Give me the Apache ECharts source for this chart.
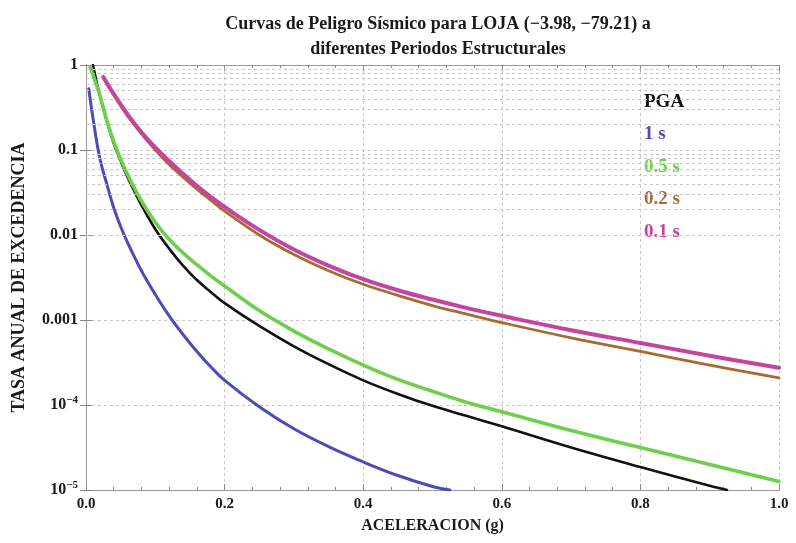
<!DOCTYPE html>
<html><head><meta charset="utf-8">
<script src="https://cdn.jsdelivr.net/npm/echarts@6/dist/echarts.min.js"></script>
<style>html,body{margin:0;padding:0;background:#fff}#c{width:796px;height:543px}</style>
</head><body><div id="c"></div>
<script>
const seriesNames = ['PGA', '1 s', '0.5 s', '0.2 s', '0.1 s'];
const seriesColors = ['#111111', '#4a4db8', '#6fcf4c', '#a86a30', '#c4449e'];

const pgaX = [0.01, 0.02, 0.03, 0.04, 0.05, 0.06, 0.08, 0.10, 0.12, 0.14, 0.16, 0.18, 0.20, 0.25, 0.30, 0.35, 0.40, 0.45, 0.50, 0.55, 0.60, 0.70, 0.80, 0.90, 0.925];
const pgaY = [1.0, 0.437, 0.219, 0.120, 0.0741, 0.0479, 0.0224, 0.0117, 0.00692, 0.00437, 0.00295, 0.00214, 0.00158, 0.000851, 0.00049, 0.000302, 0.000195, 0.000135, 0.0000977, 0.0000741, 0.0000562, 0.0000316, 0.0000186, 0.0000112, 0.00001];

const s1X = [0.004, 0.01, 0.02, 0.03, 0.04, 0.05, 0.06, 0.08, 0.10, 0.12, 0.14, 0.16, 0.18, 0.20, 0.25, 0.30, 0.35, 0.40, 0.45, 0.50, 0.525];
const s1Y = [0.525, 0.24, 0.0794, 0.0398, 0.0209, 0.0126, 0.00813, 0.0038, 0.002, 0.00112, 0.000676, 0.000427, 0.000282, 0.000195, 0.0000955, 0.0000525, 0.0000324, 0.0000214, 0.0000148, 0.000011, 0.00001];

const s05X = [0.006, 0.02, 0.03, 0.04, 0.05, 0.06, 0.08, 0.10, 0.12, 0.14, 0.16, 0.18, 0.20, 0.25, 0.30, 0.35, 0.40, 0.45, 0.50, 0.55, 0.60, 0.70, 0.80, 0.90, 1.0];
const s05Y = [0.955, 0.437, 0.224, 0.126, 0.0776, 0.0513, 0.0251, 0.0141, 0.00891, 0.00617, 0.00447, 0.00331, 0.00251, 0.00129, 0.000741, 0.000457, 0.000295, 0.0002, 0.000145, 0.000107, 0.0000832, 0.0000501, 0.0000316, 0.00002, 0.0000126];

const s02X = [0.025, 0.04, 0.06, 0.08, 0.10, 0.12, 0.14, 0.16, 0.18, 0.20, 0.25, 0.30, 0.35, 0.40, 0.45, 0.50, 0.55, 0.60, 0.70, 0.80, 0.90, 1.0];
const s02Y = [0.708, 0.447, 0.251, 0.155, 0.1, 0.0676, 0.0479, 0.0347, 0.0257, 0.0191, 0.01, 0.00589, 0.0038, 0.00263, 0.00195, 0.00148, 0.00117, 0.000933, 0.000617, 0.000427, 0.000295, 0.000209];

const s01X = [0.025, 0.04, 0.06, 0.08, 0.10, 0.12, 0.14, 0.16, 0.18, 0.20, 0.25, 0.30, 0.35, 0.40, 0.45, 0.50, 0.55, 0.60, 0.70, 0.80, 0.90, 1.0];
const s01Y = [0.724, 0.457, 0.263, 0.162, 0.107, 0.0741, 0.0525, 0.038, 0.0282, 0.0214, 0.0115, 0.00676, 0.00437, 0.00302, 0.00224, 0.00174, 0.00138, 0.00112, 0.000759, 0.000537, 0.00038, 0.000275];

const xTickLabels = ['0.0', '0.2', '0.4', '0.6', '0.8', '1.0'];
const yTickLabels = ['1', '0.1', '0.01', '0.001', '10^-4', '10^-5'];

const seriesX = [pgaX, s1X, s05X, s02X, s01X];
const seriesY = [pgaY, s1Y, s05Y, s02Y, s01Y];
const lineWidths = [2.6, 3, 3.6, 2.8, 4];

const serif = 'Liberation Serif';
const gridLevels = [];
for (let e = -5; e < 0; e++) for (let m = 2; m <= 9; m++) gridLevels.push(m * Math.pow(10, e));

const chart = echarts.init(document.getElementById('c'), null, {renderer: 'canvas'});

const series = seriesNames.map((n, i) => ({
  name: n, type: 'line', smooth: 0.4, showSymbol: false, symbol: 'none',
  data: seriesX[i].map((x, j) => [x, seriesY[i][j]]),
  lineStyle: {color: seriesColors[i], width: lineWidths[i], join: 'round', cap: 'round'},
  itemStyle: {color: seriesColors[i]},
  z: 3 + i, animation: false
}));
series.unshift({
  name: 'grid', type: 'line', data: [], z: 1, silent: true, animation: false,
  markLine: {
    silent: true, symbol: ['none', 'none'], animation: false,
    label: {show: false},
    lineStyle: {color: '#c8c8c8', type: [3, 3], width: 1},
    data: gridLevels.map(v => ({yAxis: v}))
  }
});

function yLabel(v) {
  const e = Math.round(Math.log10(v));
  const t = yTickLabels[-e];
  if (t === undefined) return '';
  if (t.indexOf('^') >= 0) {
    const p = t.split('^');
    return '{b|' + p[0] + '}{s|' + p[1].replace('-', '\u2212') + '}';
  }
  return '{b|' + t + '}';
}

const txt = '#1a1a1a';
const axisLabelStyle = {fontFamily: serif, fontWeight: 'bold', fontSize: 15, color: txt};

chart.setOption({
  backgroundColor: '#ffffff',
  animation: false,
  title: {
    text: 'Curvas de Peligro Sísmico para LOJA (\u22123.98, \u221279.21) a\ndiferentes Periodos Estructurales',
    left: 433, top: 7, textAlign: 'center',
    textStyle: {fontFamily: serif, fontWeight: 'bold', fontSize: 18, lineHeight: 25, color: txt}
  },
  legend: {
    orient: 'vertical', left: 634, top: 87, itemWidth: 0, itemHeight: 20, itemGap: 13,
    selectedMode: false,
    textStyle: {fontFamily: serif, fontWeight: 'bold', fontSize: 19},
    data: seriesNames.map((n, i) => ({name: n, icon: 'none', textStyle: {color: seriesColors[i]}}))
  },
  grid: {left: 86, right: 17, top: 65, bottom: 53},
  xAxis: [{
    type: 'value', min: 0, max: 1, interval: 0.2,
    name: 'ACELERACION (g)', nameLocation: 'middle', nameGap: 28,
    nameTextStyle: {fontFamily: serif, fontWeight: 'bold', fontSize: 16, color: txt},
    axisLine: {show: true, lineStyle: {color: '#999'}},
    axisTick: {show: true, inside: true, length: 6, lineStyle: {color: '#888'}},
    minorTick: {show: true, splitNumber: 5, length: 3, lineStyle: {color: '#888'}},
    axisLabel: Object.assign({margin: 7, formatter: v => xTickLabels[Math.round(v / 0.2)]}, axisLabelStyle),
    splitLine: {show: true, lineStyle: {color: '#c8c8c8', type: [3, 3]}}
  }, {
    type: 'value', min: 0, max: 1, interval: 0.2, position: 'top',
    axisLine: {show: true, lineStyle: {color: '#999'}},
    axisTick: {show: true, inside: true, length: 6, lineStyle: {color: '#888'}},
    minorTick: {show: true, splitNumber: 5, length: 3, lineStyle: {color: '#888'}},
    axisLabel: {show: false}, splitLine: {show: false}
  }],
  yAxis: [{
    type: 'log', logBase: 10, min: 1e-5, max: 1,
    name: 'TASA ANUAL DE EXCEDENCIA', nameLocation: 'middle', nameGap: 58, nameRotate: 90,
    nameTextStyle: {fontFamily: serif, fontWeight: 'bold', fontSize: 18, color: txt},
    axisLine: {show: true, lineStyle: {color: '#999'}},
    axisTick: {show: true, inside: true, length: 6, lineStyle: {color: '#888'}},
    axisLabel: {
      margin: 8, formatter: yLabel,
      rich: {
        b: {fontFamily: serif, fontWeight: 'bold', fontSize: 16, color: txt},
        s: {fontFamily: serif, fontWeight: 'bold', fontSize: 11, color: txt, padding: [0, 0, 10, 0]}
      }
    },
    splitLine: {show: true, lineStyle: {color: '#c8c8c8', type: [3, 3]}}
  }, {
    type: 'log', logBase: 10, min: 1e-5, max: 1, position: 'right',
    axisLine: {show: true, lineStyle: {color: '#999'}},
    axisTick: {show: true, inside: true, length: 6, lineStyle: {color: '#888'}},
    axisLabel: {show: false}, splitLine: {show: false}
  }],
  series: series
});
</script>
</body></html>
